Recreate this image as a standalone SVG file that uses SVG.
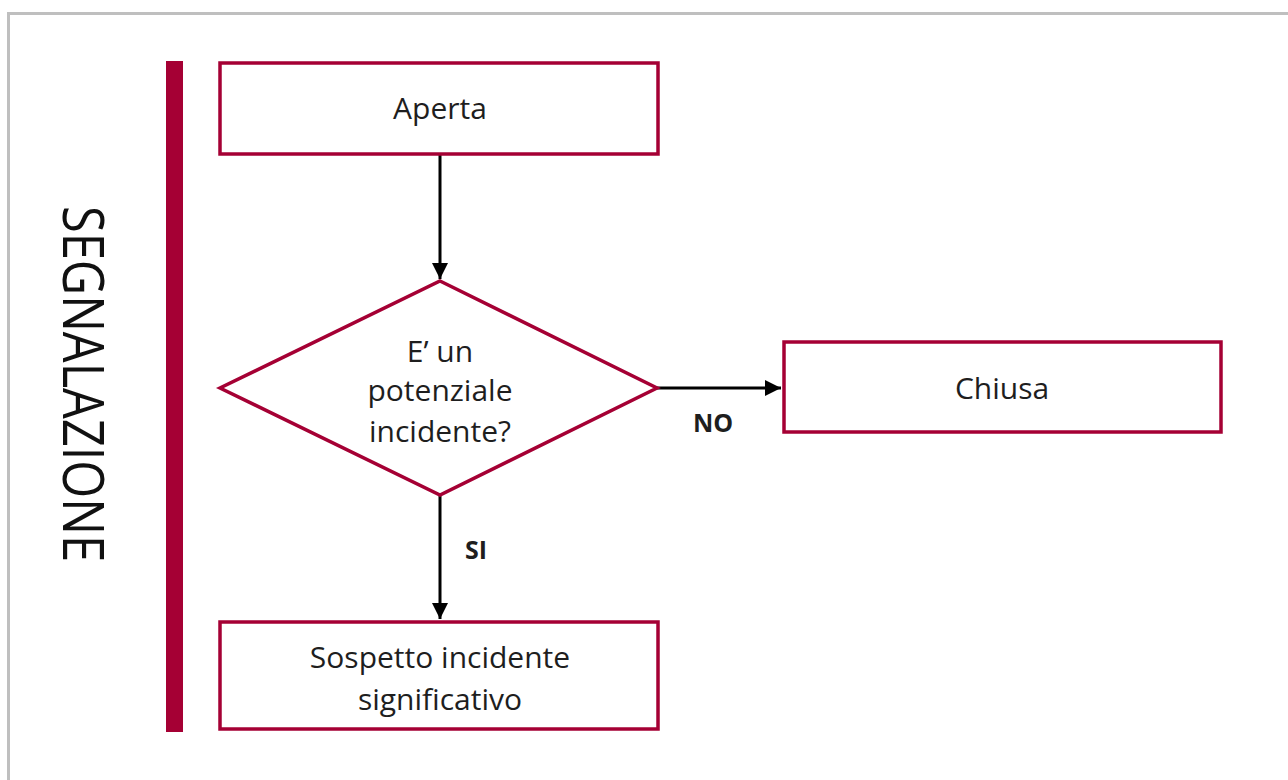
<svg xmlns="http://www.w3.org/2000/svg" width="1288" height="780" viewBox="0 0 1288 780">
<defs>
<style>
.box{fill:#fff;stroke:#A50034;stroke-width:3.5}
.lbl{font-family:"Open Sans","Noto Sans","Liberation Sans",sans-serif;font-size:30px;fill:#1e1e1e;text-anchor:middle}
.edge{font-family:"Open Sans","Noto Sans","Liberation Sans",sans-serif;font-size:25px;font-weight:bold;fill:#1e1e1e;text-anchor:middle}
.conn{stroke:#000;stroke-width:3;fill:none}
</style>
<marker id="ah" viewBox="0 0 10 10" refX="10" refY="5" markerWidth="5.5" markerHeight="5.5" markerUnits="strokeWidth" orient="auto">
<path d="M0,0 L10,5 L0,10 z" fill="#000"/>
</marker>
</defs>
<rect x="0" y="0" width="1288" height="780" fill="#fff"/>
<path d="M8.5,790 V13.5 H1300" fill="none" stroke="#BFBFBF" stroke-width="3"/>
<g id="lane">
<rect x="166" y="61" width="17" height="671" fill="#A50034"/>
<text transform="translate(63,384) rotate(90)" font-family="'Open Sans','Noto Sans','Liberation Sans',sans-serif" font-size="56" fill="#111" text-anchor="middle" textLength="356" lengthAdjust="spacingAndGlyphs">SEGNALAZIONE</text>
</g>
<g id="connectors">
<line class="conn" x1="440" y1="155" x2="440" y2="279" marker-end="url(#ah)"/>
<line class="conn" x1="657" y1="388" x2="781" y2="388" marker-end="url(#ah)"/>
<line class="conn" x1="440" y1="495" x2="440" y2="619" marker-end="url(#ah)"/>
<text class="edge" x="713" y="432">NO</text>
<text class="edge" x="476" y="559">SI</text>
</g>
<g id="aperta">
<rect class="box" x="220" y="63" width="438" height="91"/>
<text class="lbl" x="440" y="119">Aperta</text>
</g>
<g id="decisione">
<polygon class="box" points="440,281 657,388 440,495 220,388"/>
<text class="lbl" x="440" y="362">E’ un</text>
<text class="lbl" x="440" y="401">potenziale</text>
<text class="lbl" x="440" y="442">incidente?</text>
</g>
<g id="chiusa">
<rect class="box" x="784" y="342" width="437" height="90"/>
<text class="lbl" x="1002" y="399">Chiusa</text>
</g>
<g id="sospetto">
<rect class="box" x="220" y="622" width="438" height="107"/>
<text class="lbl" x="440" y="668">Sospetto incidente</text>
<text class="lbl" x="440" y="710">significativo</text>
</g>
</svg>
